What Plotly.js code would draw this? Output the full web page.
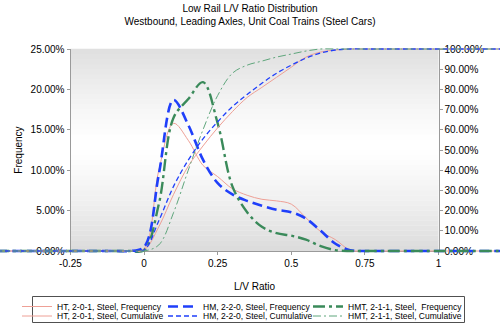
<!DOCTYPE html>
<html>
<head>
<meta charset="utf-8">
<script src="https://cdn.plot.ly/plotly-3.0.1.min.js"></script>
<style>html,body{margin:0;padding:0;background:#fff;}#chart{width:500px;height:324px;}</style>
</head>
<body>
<div id="chart"></div>
<script>
// ---- data (values in percent) ----
const lvRatio = [-0.5,-0.45,-0.4,-0.35,-0.3,-0.25,-0.2,-0.15,-0.1,-0.05,
  0,0.05,0.1,0.15,0.2,0.25,0.3,0.35,0.4,0.45,0.5,0.55,0.6,0.65,0.7,0.75,
  0.8,0.85,0.9,0.95,1,1.05,1.1,1.15,1.2,1.25];
const htFreq  = [0,0,0,0,0,0,0,0,0,0, 0.3,10.0,15.8,13.7,10.6,9.2,7.7,6.9,6.4,6.2,5.8,4.1,2.4,1.4,0.1,0, 0,0,0,0,0,0,0,0,0,0];
const hmFreq  = [0,0,0,0,0,0,0,0,0,0, 0.5,9.5,18.7,15.6,11.3,8.4,7.0,6.2,5.6,5.1,4.8,4.0,2.5,0.9,0.1,0, 0,0,0,0,0,0,0,0,0,0];
const hmtFreq = [0,0,0,0,0,0,0,0,0,0, 0.1,5.8,16.5,18.8,20.9,15.8,8.0,4.8,3.0,2.2,1.9,1.4,0.6,0.1,0,0, 0,0,0,0,0,0,0,0,0,0];
const htCum   = [0,0,0,0,0,0,0,0,0,0, 0.5,12,28,42,52,61,69,76,81,86,91,96,98.5,99.5,100,100, 100,100,100,100,100,100,100,100,100,100];
const hmCum   = [0,0,0,0,0,0,0,0,0,0, 0.5,15,32,45,55.5,64,71.5,77.5,83,88,92,95.5,98,99.5,100,100, 100,100,100,100,100,100,100,100,100,100];
const hmtCum  = [0,0,0,0,0,0,0,0,0,0, 0,3,19,40,60,77,88,92,94,96,97.5,99,100,100,100,100, 100,100,100,100,100,100,100,100,100,100];

const seriesNames = [
  'HT, 2-0-1, Steel, Frequency','HM, 2-2-0, Steel, Frequency','HMT, 2-1-1, Steel,  Frequency',
  'HT, 2-0-1, Steel, Cumulative','HM, 2-2-0, Steel, Cumulative','HMT, 2-1-1, Steel, Cumulative'
];
const xTickVals = [-0.25,0,0.25,0.5,0.75,1];
const xTickText = ['-0.25','0','0.25','0.5','0.75','1'];
const freqTicks = [0,0.05,0.10,0.15,0.20,0.25];
const cumTicks  = [0,0.1,0.2,0.3,0.4,0.5,0.6,0.7,0.8,0.9,1.0];

// ---- styling ----
const FONT = 'Liberation Sans, Arial, sans-serif';
const W = 500, H = 324;
const boxL = 70.5, boxR = 438.5, boxT = 49, boxB = 251;
const xd0 = boxL/W, xd1 = boxR/W;
const yd0 = (H-boxB)/H, yd1 = (H-boxT)/H;
const pxPerX = (boxR-boxL)/1.25;
const x2range = [-0.25 - boxL/pxPerX, 1 + (W-boxR)/pxPerX];
const ext = 6;
const pxPerFreq = (boxB-boxT)/0.25, pxPerCum = (boxB-boxT)/1;

const pink = '#eea096', blue = '#1f3ffa', green = '#3a8a5a', lgreen = '#5fa67c';
const pct = a => a.map(v => v/100);

const legendIds = ['legend','legend2','legend3','legend4','legend5','legend6'];
const traces = [
  {x: lvRatio, y: pct(htFreq), name: seriesNames[0], xaxis:'x2', yaxis:'y3',
   line:{color:pink, width:1, shape:'spline', smoothing:1}},
  {x: lvRatio, y: pct(hmFreq), name: seriesNames[1], xaxis:'x2', yaxis:'y3',
   line:{color:blue, width:2.6, dash:'10px,5px', shape:'spline', smoothing:1}},
  {x: lvRatio, y: pct(hmtFreq), name: seriesNames[2], xaxis:'x2', yaxis:'y3',
   line:{color:green, width:2.4, dash:'12px,4px,3px,4px', shape:'spline', smoothing:1}},
  {x: lvRatio, y: pct(htCum), name: seriesNames[3], xaxis:'x2', yaxis:'y4',
   line:{color:pink, width:1, shape:'spline', smoothing:1}},
  {x: lvRatio, y: pct(hmCum), name: seriesNames[4], xaxis:'x2', yaxis:'y4',
   line:{color:blue, width:1.3, dash:'5px,3px', shape:'spline', smoothing:1}},
  {x: lvRatio, y: pct(hmtCum), name: seriesNames[5], xaxis:'x2', yaxis:'y4',
   line:{color:lgreen, width:1, dash:'8px,3px,2px,3px', shape:'spline', smoothing:1}}
];
traces.forEach((t, i) => { t.mode = 'lines'; t.legend = legendIds[i]; });
traces.push({x: [], y: [], xaxis:'x', yaxis:'y', showlegend:false, hoverinfo:'skip'});
traces.push({x: [], y: [], xaxis:'x', yaxis:'y2', showlegend:false, hoverinfo:'skip'});

// background gradient bands
const shapes = [];
const N = 40;
for (let i = 0; i < N; i++) {
  const t = (i + 0.5) / N;
  const d = Math.abs(t - 0.52) / 0.52;
  const v = Math.round(255 - 36 * Math.pow(Math.min(d,1), 1.3));
  shapes.push({type:'rect', xref:'paper', yref:'paper', layer:'below',
    x0:xd0, x1:xd1, y0: yd0 + (yd1-yd0)*i/N, y1: yd0 + (yd1-yd0)*(i+1)/N + 0.001,
    fillcolor:`rgb(${v},${v},${v})`, line:{width:0}});
}
// legend frame (four edges)
const fL = 32.5/W, fR = 464.5/W, fB = (H-322.5)/H, fT = (H-296.5)/H;
[[fL,fT,fR,fT],[fL,fB,fR,fB],[fL,fB,fL,fT],[fR,fB,fR,fT]].forEach(s => {
  shapes.push({type:'line', xref:'paper', yref:'paper', layer:'above',
    x0:s[0], y0:s[1], x1:s[2], y1:s[3], line:{color:'#505050', width:1}});
});

const axisCommon = {showgrid:false, zeroline:false, showline:true, linecolor:'#9a9a9a', linewidth:1,
  ticks:'outside', ticklen:3, tickcolor:'#9a9a9a', tickfont:{family:FONT, size:10, color:'#000'}};

const legendCommon = {orientation:'h', xanchor:'left', yanchor:'middle',
  font:{family:FONT, size:8.5, color:'#000'}, bgcolor:'rgba(255,255,255,0)', borderwidth:0};
const legendTextX = [57, 203, 348];
const legendRowY = [(H-306.5)/H, (H-316)/H];

const layout = {
  width: W, height: H,
  margin: {l:0, r:0, t:0, b:0, autoexpand:false},
  paper_bgcolor:'#fff', plot_bgcolor:'rgba(0,0,0,0)',
  font:{family:FONT, size:10, color:'#000'},
  title:{text:'Low Rail L/V Ratio Distribution<br>Westbound, Leading Axles, Unit Coal Trains (Steel Cars)',
    font:{family:FONT, size:10, color:'#000'}, x:0.5, xanchor:'center', y:0.963, yanchor:'top', yref:'container'},
  xaxis: Object.assign({}, axisCommon, {domain:[xd0, xd1], range:[-0.25, 1], anchor:'y',
    tickmode:'array', tickvals:xTickVals, ticktext:xTickText,
    title:{text:'L/V Ratio', font:{family:FONT, size:10, color:'#000'}, standoff:14}}),
  yaxis: Object.assign({}, axisCommon, {domain:[yd0, yd1], range:[0, 0.25], anchor:'x',
    tickmode:'array', tickvals:freqTicks, tickformat:'.2%',
    title:{text:'Frequency', font:{family:FONT, size:10, color:'#000'}, standoff:6}}),
  yaxis2: Object.assign({}, axisCommon, {domain:[yd0, yd1], range:[0, 1], anchor:'x', overlaying:'y', side:'right',
    tickmode:'array', tickvals:cumTicks, tickformat:'.2%'}),
  xaxis2: {domain:[0,1], range:x2range, anchor:'y3', visible:false, showgrid:false, zeroline:false},
  yaxis3: {domain:[(H-boxB-ext)/H, (H-boxT+ext)/H], range:[-ext/pxPerFreq, 0.25+ext/pxPerFreq], anchor:'x2', visible:false, showgrid:false, zeroline:false},
  yaxis4: {domain:[(H-boxB-ext)/H, (H-boxT+ext)/H], range:[-ext/pxPerCum, 1+ext/pxPerCum], anchor:'x2', overlaying:'y3', visible:false, showgrid:false, zeroline:false},
  shapes: shapes,
  showlegend: true
};
legendIds.forEach((id, i) => {
  layout[id] = Object.assign({}, legendCommon, {
    x: (legendTextX[i % 3] - 40) / W,
    y: legendRowY[Math.floor(i / 3)]
  });
});

Plotly.newPlot('chart', traces, layout, {staticPlot:true, displayModeBar:false});
</script>
</body>
</html>
